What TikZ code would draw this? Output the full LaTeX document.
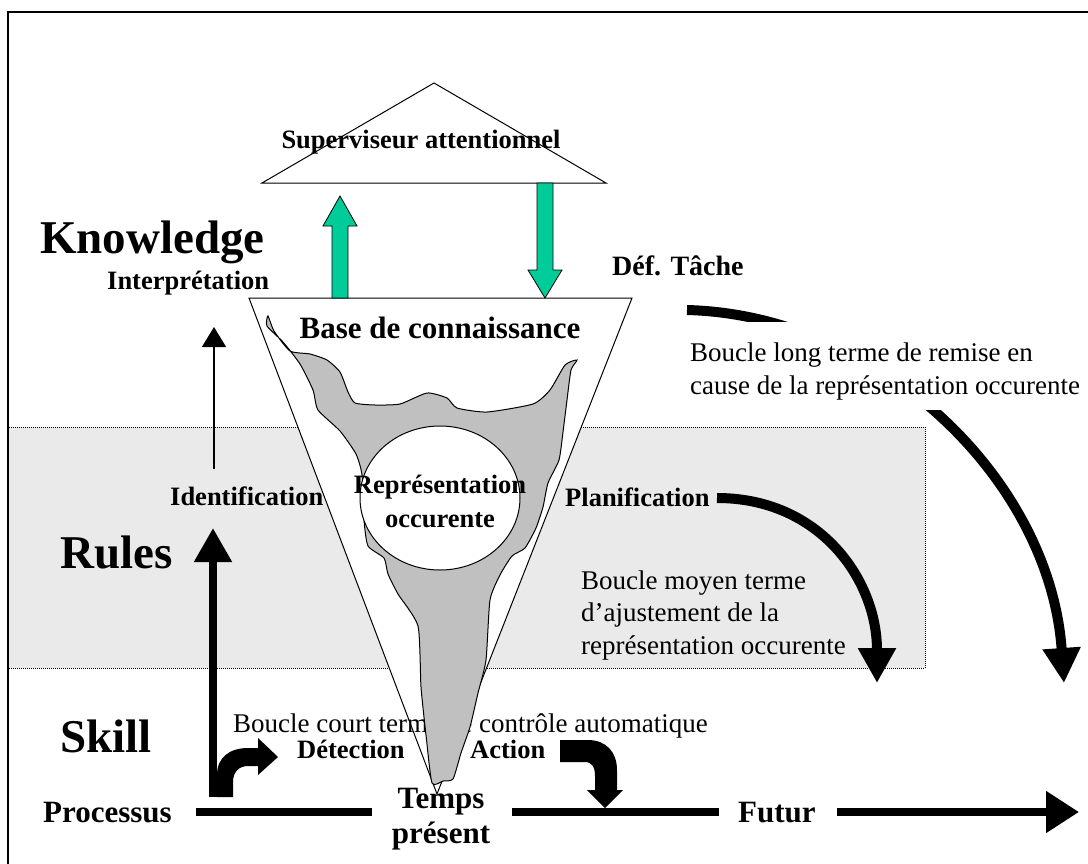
\documentclass[tikz,border=0pt]{standalone}
\usepackage{fontspec}
\setmainfont{Liberation Serif}
\usetikzlibrary{arrows.meta}
\definecolor{vert}{RGB}{0,204,153}
\definecolor{fondgris}{RGB}{234,234,234}
\definecolor{grisforme}{RGB}{192,192,192}
\begin{document}
\begin{tikzpicture}[x=1pt,y=-1pt,
	niveau/.style={font=\fontsize{47}{52}\selectfont\bfseries,inner sep=0pt,anchor=base west},
	etape/.style={font=\fontsize{26.5}{31}\selectfont\bfseries,inner sep=0pt},
	tps/.style={font=\fontsize{31}{35}\selectfont\bfseries,inner sep=0pt,align=center},
	boucle/.style={font=\fontsize{27}{32.5}\selectfont,inner sep=0pt,align=left,anchor=base west},
	axe/.style={line width=8pt},
	fleche/.style={line width=10pt,-{Triangle[width=36pt,length=35pt]}},
	bloc/.style={draw=black,line width=0.8pt,fill=vert}]
	\useasboundingbox (0,0) rectangle (1088,863);
	\clip (0,0) rectangle (1088,863);
	% bande "Rules"
	\fill[fondgris] (8,427) rectangle (925,668);
	\draw[line width=0.8pt,dash pattern=on 1pt off 1pt] (8,427) rectangle (925,668);
	% cadre
	\draw[line width=1.5pt] (8,870) -- (8,12) -- (1095,12);
	% superviseur et base
	\draw[fill=white,line width=1pt] (262,183) -- (606,183) -- (434,83) -- cycle;
	\draw[fill=white,line width=1pt] (249,298) -- (632,298) -- (437,794) -- cycle;
	\draw[bloc] (332,298) -- (332,226) -- (323,226) -- (340,196) -- (357,226) -- (348,226) -- (348,298) -- cycle;
	\draw[bloc] (537,183) -- (537,270) -- (528,270) -- (545,298) -- (562,270) -- (553,270) -- (553,183) -- cycle;
	\node[boucle] (court) at (233,732) {Boucle court terme de contr\^ole automatique};
	% representation (forme grise)
	\draw[fill=grisforme,line width=1pt] plot[smooth cycle,tension=0.35] coordinates {
		(268,316) (274,331) (290,351) (310,354) (327,360) (340,372) (348,392) (355,403)
		(375,405) (400,404) (427,393) (447,398) (457,408) (487,412) (533,404) (550,390)
		(565,365) (577,360) (571,370) (567,400) (563,432) (559,460) (548,483) (543,507)
		(536,528) (525,548) (512,556) (500,575) (490,600) (486,660) (478,693) (470,727)
		(461,753) (453,779) (443,781) (432,783) (426,735) (421,687) (418,626) (398,594) (388,574)
		(384,558) (368,546) (364,520) (362,475) (356,454) (340,431) (318,410) (313,390)
		(300,364) (283,342) (267,326)};
	\draw[fill=white,line width=1pt] (440,498) ellipse [x radius=80,y radius=72];
	% textes
	\node[etape,anchor=base] (sup) at (421,148) {Superviseur attentionnel};
	\node[etape,font=\fontsize{31}{35}\selectfont\bfseries,anchor=base] (base) at (440,338) {Base de connaissance};
	\node[etape,font=\fontsize{26.5}{34}\selectfont\bfseries,align=center,anchor=base] (repr) at (440,527) {Repr\'esentation\\occurente};
	\node[niveau] (know) at (40,253) {Knowledge};
	\node[niveau] (rules) at (60,568) {Rules};
	\node[niveau] (skill) at (60,752) {Skill};
	\node[etape,anchor=base west] (interp) at (107,289) {Interpr\'etation};
	\node[etape,anchor=base west] (ident) at (170,505) {Identification};
	\node[etape,anchor=base west] (detect) at (297,758) {D\'etection};
	\node[etape,anchor=base west] (action) at (470,758) {Action};
	\node[etape,font=\fontsize{28}{32}\selectfont\bfseries,anchor=base west] (tache) at (612,275) {D\'ef. T\^ache};
	\node[etape,anchor=base west] (planif) at (565,506) {Planification};
	\node[boucle] (moyen) at (581,654) {Boucle moyen terme\\d'ajustement de la\\repr\'esentation occurente};
	% axe du temps
	\node[tps,anchor=base west] (proc) at (43,822) {Processus};
	\node[tps,anchor=base] (present) at (441,843) {Temps\\pr\'esent};
	\node[tps,anchor=base west] (futur) at (738,822) {Futur};
	\coordinate (axeA) at (196,812);
	\coordinate (axeB) at (372,812);
	\coordinate (axeC) at (512,812);
	\coordinate (axeD) at (719,812);
	\coordinate (axeE) at (837,812);
	\coordinate (axeF) at (1079,812);
	\draw[axe] (axeA) -- (axeB);
	\draw[axe] (axeC) -- (axeD);
	\draw[axe,-{Triangle[width=40pt,length=33pt]}] (axeE) -- (axeF);
	% fleches de gauche
	\coordinate (inA) at (214,469);
	\coordinate (inB) at (214,327);
	\draw[line width=1.3pt,-{Triangle[width=24pt,length=20pt]}] (inA) -- (inB);
	\coordinate (idA) at (213,797);
	\coordinate (idB) at (213,528);
	\draw[line width=8pt,-{Triangle[width=36pt,length=34pt]}] (idA) -- (idB);
	\fill (217,797) -- (217,775) .. controls (217,757) and (230,748) .. (248,748) -- (258,748)
		-- (258,738) -- (278,757) -- (258,775) -- (258,766) -- (248,766)
		.. controls (239,766) and (233,772) .. (233,782) -- (233,797) -- cycle;
	\fill (560,740) -- (588,740) .. controls (606,740) and (617,752) .. (617,770) -- (617,790)
		-- (623,790) -- (605,808) -- (587,790) -- (595,790) -- (595,776)
		.. controls (595,767) and (592,762) .. (585,762) -- (560,762) -- cycle;
	% boucles moyen et long terme
	\coordinate (plA) at (717,498);
	\coordinate (plB) at (877,683);
	\draw[fleche] (plA) .. controls (820,498) and (877,580) .. (plB);
	\coordinate (loA) at (687,310);
	\coordinate (loB) at (1064,683);
	\draw[fleche] (loA) .. controls (880,315) and (1050,480) .. (loB);
	\fill[white] (680,322) rectangle (1088,410);
	\node[boucle] (long) at (690,394) {Boucle long terme de remise en\\cause de la repr\'esentation occurente};
\end{tikzpicture}
\end{document}
